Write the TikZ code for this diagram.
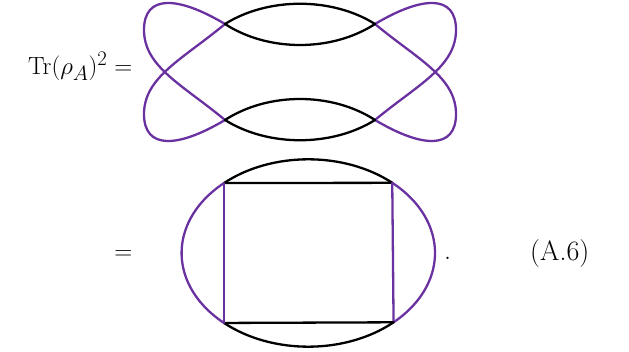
\documentclass[tikz,border=0pt]{standalone}
\usetikzlibrary{calc}
\definecolor{loopcol}{RGB}{106,50,160}
\begin{document}
\begin{tikzpicture}[x=1pt,y=-1pt,
  ln/.style={line width=2.3pt,line cap=round,line join=round},
  pur/.style={ln,draw=loopcol},
  blk/.style={ln,draw=black},
  txt/.style={inner sep=0pt,font=\fontsize{28}{34}\selectfont}]
\useasboundingbox (0,0) rectangle (629,352);
% ---------- top figure ----------
\begin{scope}[shift={(300,72)}]
  \foreach \sx/\sy in {1/1,-1/1,1/-1,-1/-1}{
    \begin{scope}[xscale=\sx,yscale=\sy]
      \draw[pur] (-75,48) .. controls (-117,13) and (-156,-5) .. (-156,-42)
                 .. controls (-156,-78) and (-122,-76) .. (-75,-48);
    \end{scope}
  }
  \coordinate (tl) at (-75,-48);
  \coordinate (tr) at (75,-48);
  \coordinate (bl) at (-75,48);
  \coordinate (br) at (75,48);
  \draw[blk] (tl) .. controls (-32,-75) and (32,-75) .. (tr);
  \draw[blk] (tl) .. controls (-32,-20) and (32,-20) .. (tr);
  \draw[blk] (bl) .. controls (-32,20) and (32,20) .. (br);
  \draw[blk] (bl) .. controls (-32,75) and (32,75) .. (br);
\end{scope}
% ---------- bottom figure ----------
\coordinate (C) at (308.3,253);
\coordinate (TL) at ($(C)+(228.3:126.7 and 93.7)$);
\coordinate (TR) at ($(C)+(311.5:126.7 and 93.7)$);
\coordinate (BR) at ($(C)+(47.7:126.7 and 93.7)$);
\coordinate (BL) at ($(C)+(131.7:126.7 and 93.7)$);
\draw[blk] (TL) arc[start angle=228.3,end angle=311.5,x radius=126.7,y radius=93.7];
\draw[pur] (TR) arc[start angle=-48.5,end angle=47.7,x radius=126.7,y radius=93.7];
\draw[blk] (BR) arc[start angle=47.7,end angle=131.7,x radius=126.7,y radius=93.7];
\draw[pur] (BL) arc[start angle=131.7,end angle=228.3,x radius=126.7,y radius=93.7];
\draw[blk] (TL) -- (TR);
\draw[pur] (TR) -- (BR);
\draw[blk] (BR) -- (BL);
\draw[pur] (BL) -- (TL);
% ---------- text ----------
\node[txt,anchor=base east,font=\fontsize{29.5}{35}\selectfont] (lhs) at (132.5,75) {$\mathrm{Tr}(\rho_A)^2 =$};
\node[txt,anchor=base east] (eq2) at (132.5,260) {$=$};
\node[txt,anchor=base west] (dot) at (444,260) {.};
\node[txt,anchor=base west] (num) at (530,261) {(A.6)};
\end{tikzpicture}
\end{document}
